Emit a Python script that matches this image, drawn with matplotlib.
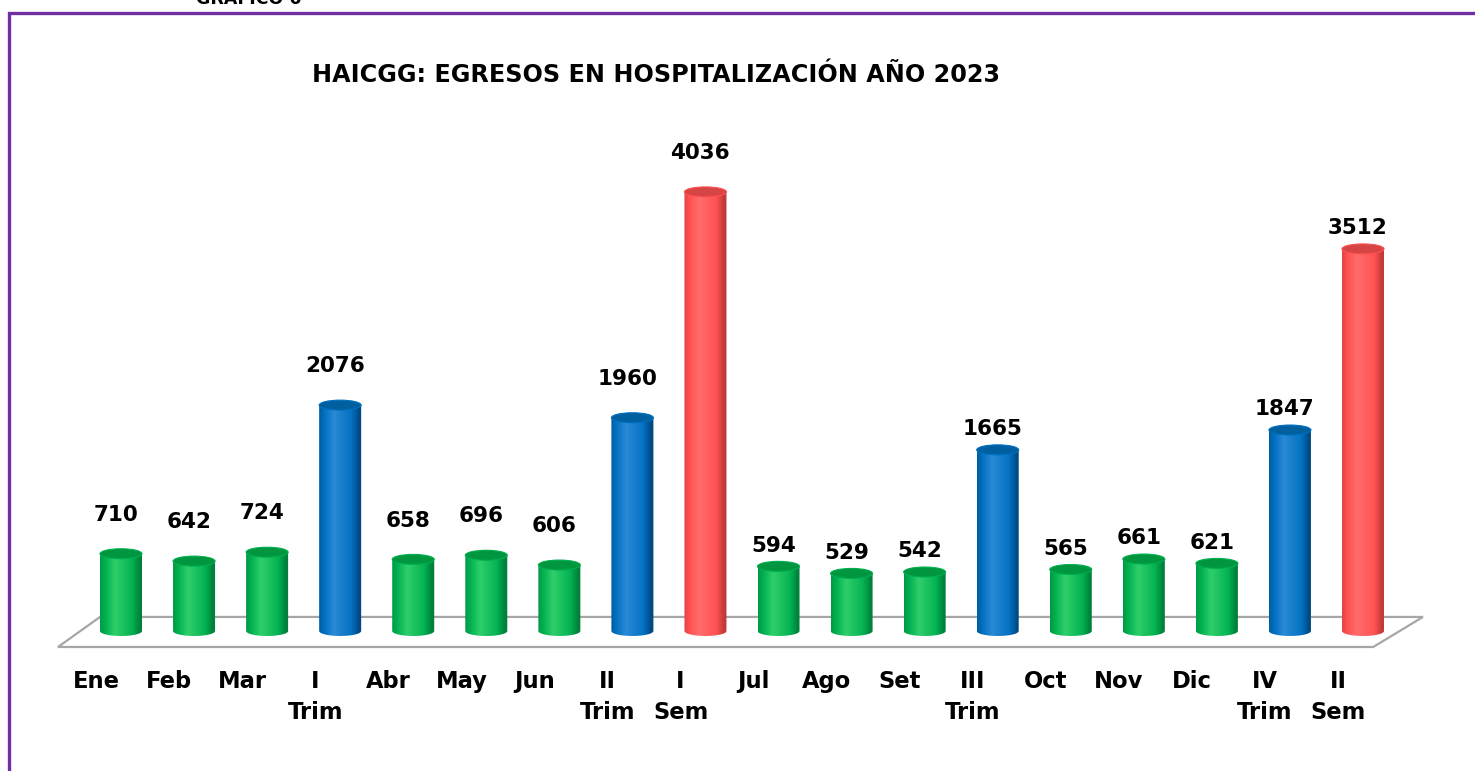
import numpy as np
import matplotlib.pyplot as plt
from matplotlib.patches import Ellipse, Polygon, Rectangle
from matplotlib.colors import to_rgb

categories = ['Ene', 'Feb', 'Mar', 'I\nTrim', 'Abr', 'May', 'Jun', 'II\nTrim', 'I\nSem',
              'Jul', 'Ago', 'Set', 'III\nTrim', 'Oct', 'Nov', 'Dic', 'IV\nTrim', 'II\nSem']
values = [710, 642, 724, 2076, 658, 696, 606, 1960, 4036,
          594, 529, 542, 1665, 565, 661, 621, 1847, 3512]
kinds = ['mes', 'mes', 'mes', 'trim', 'mes', 'mes', 'mes', 'trim', 'sem',
         'mes', 'mes', 'mes', 'trim', 'mes', 'mes', 'mes', 'trim', 'sem']

# base, light, dark, top
palette = {
    'mes': ('#00b050', '#2fcf6a', '#00813b', '#00953f'),
    'trim': ('#0070c0', '#2a8ad6', '#004a84', '#00609f'),
    'sem': ('#ff5050', '#ff6c6c', '#c23a3a', '#d64444'),
}

fig = plt.figure(figsize=(14.75, 7.71), dpi=100)
ax = fig.add_axes([0, 0, 1, 1])
ax.axis('off')

bar_w = 0.575
ell_h = 92

# suelo 3D
floor = Polygon([(-0.862, -147), (-0.287, 129), (17.82, 129), (17.14, -147)],
                closed=True, facecolor='white', edgecolor='#a6a6a6', lw=1.6, zorder=1)
ax.add_patch(floor)

t = np.linspace(0, 1, 64)
for i, (v, k) in enumerate(zip(values, kinds)):
    base, light, dark, top = [np.array(to_rgb(c)) for c in palette[k]]
    # sombreado horizontal del cilindro
    prof = np.interp(t, [0, 0.35, 0.75, 1], [0.25, 1.0, 0.55, -0.2])
    cols = []
    for p in prof:
        if p >= 0.5:
            cols.append(base + (light - base) * (p - 0.5) * 2)
        else:
            cols.append(dark + (base - dark) * max(p, 0) * 2)
    img = np.array(cols)[None, :, :]
    x0, x1 = i - bar_w / 2, i + bar_w / 2
    th = np.linspace(np.pi, 2 * np.pi, 40)
    verts = [(i + bar_w / 2 * np.cos(a), ell_h / 2 * np.sin(a)) for a in th]
    verts += [(x1, v), (x0, v), verts[0]]
    clip = Polygon(verts, closed=True, transform=ax.transData, facecolor='none', edgecolor='none')
    ax.add_patch(clip)
    im = ax.imshow(img, extent=(x0, x1, -ell_h / 2, v), aspect='auto',
                   interpolation='bilinear', zorder=3)
    im.set_clip_path(clip)
    ax.add_patch(Ellipse((i, v), bar_w, ell_h, facecolor=top,
                         edgecolor=base, lw=0.8, zorder=4))
    off = 28 if i < 9 else 15
    ax.annotate(str(v), (i - 0.07, v), xytext=(0, off), textcoords='offset points',
                ha='center', va='center', fontsize=15.5, fontweight='bold',
                family='DejaVu Sans', color='black', zorder=5)
    ax.text(i - 0.34, -362, categories[i], ha='center', va='top', fontsize=16.3,
            fontweight='bold', family='DejaVu Sans', linespacing=1.45, color='black')

ax.set_xlim(-1.656, 18.533)
ax.set_ylim(-1287, 5800)

fig.text(656 / 1475, 1 - 75 / 771, 'HAICGG: EGRESOS EN HOSPITALIZACIÓN AÑO 2023',
         ha='center', va='center', fontsize=17.2, fontweight='bold', family='DejaVu Sans')
fig.text(249 / 1475, 1 - 4 / 771, 'GRAFICO 6', ha='center', va='baseline',
         fontsize=12.5, fontweight='bold', family='DejaVu Sans')

fig.patches.append(Rectangle((9 / 1475, -0.1), 1.2, 1 - 13 / 771 + 0.1,
                             transform=fig.transFigure, fill=False,
                             edgecolor='#7030a0', lw=2.4, zorder=10))

fig.savefig('out.png', dpi=100)
